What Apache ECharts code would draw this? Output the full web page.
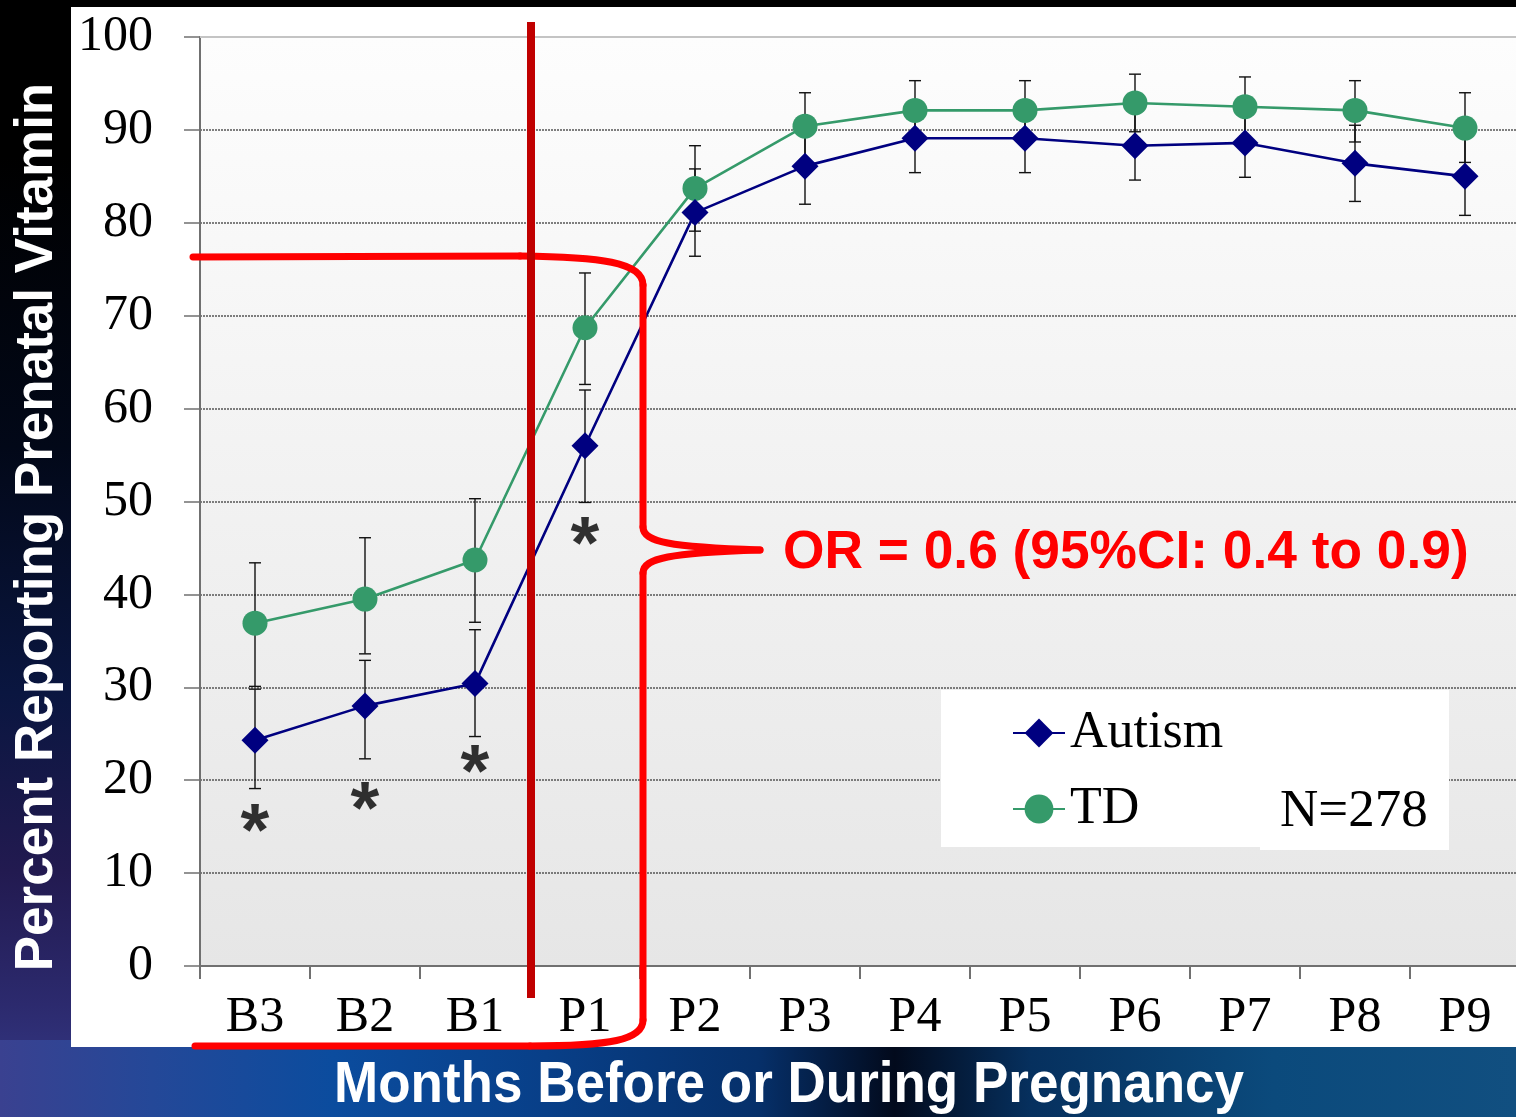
<!DOCTYPE html>
<html>
<head>
<meta charset="utf-8">
<script src="https://cdn.jsdelivr.net/npm/echarts@6/dist/echarts.min.js"></script>
<style>
  html, body { margin:0; padding:0; }
  body { width:1516px; height:1117px; overflow:hidden; background:#000; position:relative; }
  #bgLeft { position:absolute; left:0; top:0; width:1516px; height:1117px;
    background: linear-gradient(to bottom, #000 0%, #000 14%, #020818 40%, #0a1640 62%, #221a50 78%, #2c2a6e 90%, #363c8c 100%); }
  #bgBottom { position:absolute; left:0; top:1040px; width:1516px; height:77px;
    background: linear-gradient(to right, #3a4190 0%, #244898 10%, #0b4c9e 22%, #083f88 36%, #06306a 50%, #020a1c 59%, #06305e 68%, #0b4a7c 84%, #114f80 100%); }
  #chart { position:absolute; left:0; top:0; width:1516px; height:1117px; }
</style>
</head>
<body>
<div id="bgLeft"></div>
<div id="bgBottom"></div>
<div id="chart"></div>
<script>
// ---- data ----
const categories = ['B3','B2','B1','P1','P2','P3','P4','P5','P6','P7','P8','P9'];
const autism     = [24.3, 28.0, 30.4, 56.0, 81.1, 86.1, 89.1, 89.1, 88.3, 88.6, 86.4, 85.0];
const autismLow  = [19.1, 22.3, 24.7, 49.9, 76.4, 82.0, 85.4, 85.4, 84.6, 84.9, 82.3, 80.8];
const autismHigh = [29.8, 32.9, 36.2, 62.0, 85.8, 90.2, 92.8, 92.8, 92.0, 92.3, 90.5, 89.2];
const td         = [36.9, 39.5, 43.7, 68.7, 83.7, 90.4, 92.1, 92.1, 92.9, 92.5, 92.1, 90.2];
const tdLow      = [30.1, 33.6, 37.0, 62.6, 79.1, 86.8, 88.9, 88.9, 89.8, 89.3, 88.7, 86.5];
const tdHigh     = [43.4, 46.1, 50.3, 74.6, 88.3, 94.0, 95.3, 95.3, 96.0, 95.7, 95.3, 94.0];
const sigIndex   = [0, 1, 2, 3];
const sigY       = [15.9, 18.2, 22.2, 46.8];
const yMin = 0, yMax = 100, yStep = 10;

const SERIF = "'Liberation Serif','Times New Roman',serif";
const SANS = "'Liberation Sans',Arial,sans-serif";

function errRender(params, api) {
  const x = api.value(0);
  const pLo = api.coord([x, api.value(1)]);
  const pHi = api.coord([x, api.value(2)]);
  const w = 6;
  const style = { stroke: '#111', lineWidth: 1.4 };
  return { type: 'group', children: [
    { type: 'line', shape: { x1: pLo[0], y1: pLo[1], x2: pHi[0], y2: pHi[1] }, style },
    { type: 'line', shape: { x1: pLo[0]-w, y1: pLo[1], x2: pLo[0]+w, y2: pLo[1] }, style },
    { type: 'line', shape: { x1: pHi[0]-w, y1: pHi[1], x2: pHi[0]+w, y2: pHi[1] }, style }
  ]};
}

const RED = '#ff0000';
const braceStyle = { stroke: RED, lineWidth: 7, lineCap: 'round', fill: null };
function seg(x1, y1, x2, y2) {
  return { type: 'line', z: 19, shape: { x1, y1, x2, y2 }, style: braceStyle };
}
function bez(x1, y1, cpx1, cpy1, cpx2, cpy2, x2, y2) {
  return { type: 'bezierCurve', z: 19, shape: { x1, y1, cpx1, cpy1, cpx2, cpy2, x2, y2 }, style: braceStyle };
}

const chart = echarts.init(document.getElementById('chart'));
chart.setOption({
  animation: false,
  backgroundColor: 'transparent',
  grid: {
    left: 200, top: 37, width: 1320, height: 929,
    outerBoundsMode: 'none',
    show: true, borderWidth: 0,
    backgroundColor: { type: 'linear', x: 0, y: 0, x2: 0, y2: 1,
      colorStops: [{ offset: 0, color: '#fdfdfd' }, { offset: 1, color: '#e6e6e6' }] }
  },
  legend: {
    data: ['Autism', 'TD'],
    orient: 'vertical', left: 1007, top: 700,
    itemWidth: 52, itemHeight: 36, itemGap: 20,
    selectedMode: false,
    textStyle: { fontFamily: SERIF, fontSize: 52, color: '#000', lineHeight: 56 }
  },
  xAxis: {
    type: 'category', data: categories, boundaryGap: true,
    axisLine: { show: true, lineStyle: { color: '#707070', width: 2 } },
    axisTick: { show: true, length: 13, lineStyle: { color: '#707070', width: 2 } },
    axisLabel: { fontFamily: SERIF, fontSize: 50, color: '#000', margin: 27 },
    splitLine: { show: false }
  },
  yAxis: {
    type: 'value', min: yMin, max: yMax, interval: yStep,
    axisLine: { show: true, lineStyle: { color: '#707070', width: 2 } },
    axisTick: { show: true, length: 16, lineStyle: { color: '#707070', width: 1.5 } },
    axisLabel: { fontFamily: SERIF, fontSize: 50, color: '#000', margin: 47 },
    splitLine: { show: true, lineStyle: { color: '#555', width: 1.5, type: [2, 1] } }
  },
  series: [
    { name: 'errTD', type: 'custom', renderItem: errRender, z: 1, silent: true,
      data: categories.map((c, i) => [i, tdLow[i], tdHigh[i]]) },
    { name: 'errAutism', type: 'custom', renderItem: errRender, z: 1, silent: true,
      data: categories.map((c, i) => [i, autismLow[i], autismHigh[i]]) },
    { name: 'TD', type: 'line', data: td, z: 3,
      symbol: 'circle', symbolSize: 25,
      itemStyle: { color: '#359a6a' }, lineStyle: { color: '#359a6a', width: 2.6 },
      markLine: { silent: true, symbol: 'none', label: { show: false },
        lineStyle: { color: '#c4c4c4', width: 2, type: 'solid' }, data: [{ yAxis: yMax }] } },
    { name: 'Autism', type: 'line', data: autism, z: 4,
      symbol: 'diamond', symbolSize: 27,
      itemStyle: { color: '#000080' }, lineStyle: { color: '#000080', width: 2.6 } },
    { name: 'sig', type: 'scatter', z: 5, silent: true,
      data: sigIndex.map((i, k) => [i, sigY[k]]),
      symbolSize: 1, itemStyle: { color: 'rgba(0,0,0,0)' },
      label: { show: true, formatter: '*', position: 'inside', offset: [0, 16],
        fontFamily: SANS, fontWeight: 'bold', fontSize: 74, color: '#000',
        textBorderWidth: 0, textBorderColor: 'transparent' } }
  ],
  graphic: [
    { type: 'rect', z: -10, shape: { x: 71, y: 7, width: 1445, height: 1040 }, style: { fill: '#fff' } },
    { type: 'rect', z: 2, shape: { x: 941, y: 690, width: 508, height: 157 }, style: { fill: '#fff' } },
    { type: 'rect', z: 2, shape: { x: 1260, y: 776, width: 189, height: 74 }, style: { fill: '#fff' } },
    { type: 'text', z: 6, x: 1280, y: 812,
      style: { text: 'N=278', font: '53px ' + SERIF, fill: '#000', textAlign: 'left', textVerticalAlign: 'middle' } },
    // vertical dark red divider
    { type: 'line', z: 20, shape: { x1: 531, y1: 22, x2: 531, y2: 998 },
      style: { stroke: '#c00000', lineWidth: 8 } },
    // bright red brace
    seg(193, 257, 520, 256),
    bez(520, 256, 600, 257, 643, 262, 643, 285),
    seg(643, 285, 643, 527),
    bez(643, 527, 643, 542, 670, 547, 760, 550),
    bez(760, 550, 670, 553, 643, 558, 643, 573),
    seg(643, 573, 643, 1020),
    bez(643, 1020, 643, 1040, 610, 1046, 530, 1046),
    seg(530, 1046, 195, 1046),
    { type: 'text', z: 21, x: 783, y: 553,
      style: { text: 'OR = 0.6 (95%CI: 0.4 to 0.9)', font: 'bold 53.3px ' + SANS, fill: RED,
        textAlign: 'left', textVerticalAlign: 'middle' } },
    // axis titles
    { type: 'text', z: 21, x: 37, y: 527, rotation: Math.PI / 2,
      style: { text: 'Percent Reporting Prenatal Vitamin', font: 'bold 53px ' + SANS, fill: '#fff',
        textAlign: 'center', textVerticalAlign: 'middle' } },
    { type: 'text', z: 21, x: 789, y: 1086, scaleY: 1.08,
      style: { text: 'Months Before or During Pregnancy', font: 'bold 53px ' + SANS, fill: '#fff',
        textAlign: 'center', textVerticalAlign: 'middle' } }
  ]
});
</script>
</body>
</html>
